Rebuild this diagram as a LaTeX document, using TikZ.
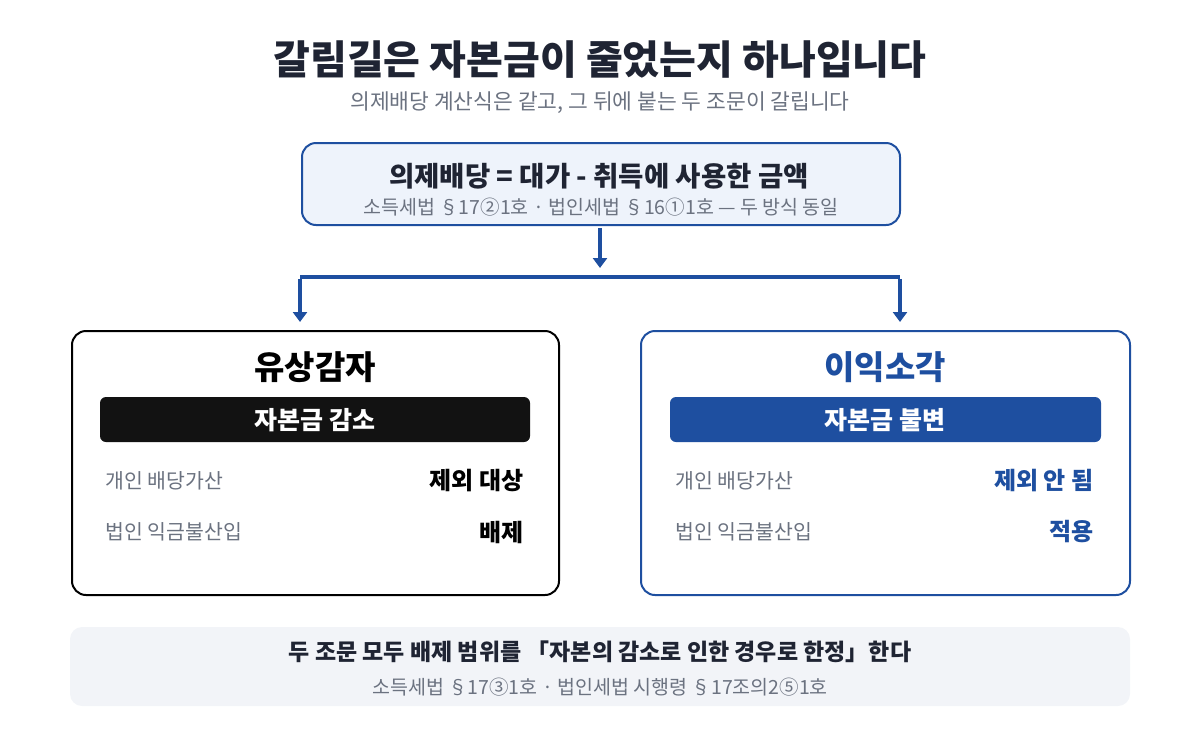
\documentclass[tikz,border=0pt]{standalone}
\usepackage{fontspec}
\setmainfont{Noto Sans CJK KR}
\definecolor{navy}{HTML}{1F2433}
\definecolor{blu}{HTML}{1E4FA0}
\definecolor{gry}{HTML}{6B7280}
\definecolor{topfill}{HTML}{EEF3FB}
\definecolor{botfill}{HTML}{F2F4F8}
\tikzset{
 px/.style={x=1pt,y=-1pt},
 card/.style={rounded corners=14pt,line width=2pt},
 bar/.style={rounded corners=6pt},
 lbl/.style={anchor=west,text=gry,font=\fontsize{20.5}{24}\selectfont},
 val/.style={anchor=east,font=\fontsize{24}{28}\selectfont\bfseries},
 flow/.style={blu,line width=3.5pt},
 tip/.style={-{Triangle[width=14pt,length=10pt]}}
}
\usetikzlibrary{arrows.meta}
\begin{document}
\begin{tikzpicture}[px]
\useasboundingbox (0,0) rectangle (1200,740);
\node[text=navy,font=\fontsize{40}{46}\selectfont\bfseries] (title) at (600,60) {갈림길은 자본금이 줄었는지 하나입니다};
\node[text=gry,font=\fontsize{21.5}{25}\selectfont] (sub) at (600,103) {의제배당 계산식은 같고, 그 뒤에 붙는 두 조문이 갈립니다};
% top box
\draw[card,draw=blu,fill=topfill] (302,143) rectangle (900,225);
\node[text=navy,font=\fontsize{27.5}{31}\selectfont\bfseries] (f1) at (599,176) {의제배당 = 대가 - 취득에 사용한 금액};
\node[text=gry,font=\fontsize{19.5}{22}\selectfont] (f2) at (601,207) {소득세법 §17②1호 · 법인세법 §16①1호 — 두 방식 동일};
\coordinate (a0) at (600,228);
\coordinate (a1) at (600,268);
\draw[flow,tip] (a0) -- (a1);
\coordinate (hl) at (300,277);
\coordinate (hr) at (900,277);
\coordinate (dl) at (300,322);
\coordinate (dr) at (900,322);
\draw[flow,line cap=butt] (hl) -- (hr);
\draw[flow,tip] ([yshift=-1.75pt]hl) -- (dl);
\draw[flow,tip] ([yshift=-1.75pt]hr) -- (dr);
% left
\draw[card,draw=black,fill=white] (72,331) rectangle (559,595);
\node[font=\fontsize{33}{38}\selectfont\bfseries] (lt) at (315,367) {유상감자};
\fill[bar,black!93] (100,397) rectangle (530,442);
\node[text=white,font=\fontsize{25}{29}\selectfont\bfseries] (lb) at (315,420) {자본금 감소};
\node[lbl] (l1) at (102,481) {개인 배당가산};
\node[val] (l1v) at (527,481) {제외 대상};
\node[lbl] (l2) at (102,532) {법인 익금불산입};
\node[val] (l2v) at (527,532) {배제};
% right
\draw[card,draw=blu,fill=white] (641,331) rectangle (1130,595);
\node[text=blu,font=\fontsize{33}{38}\selectfont\bfseries] (rt) at (885,367) {이익소각};
\fill[bar,blu] (670,397) rectangle (1101,442);
\node[text=white,font=\fontsize{25}{29}\selectfont\bfseries] (rb) at (885,420) {자본금 불변};
\node[lbl] (r1) at (672,481) {개인 배당가산};
\node[val,text=blu] (r1v) at (1097,481) {제외 안 됨};
\node[lbl] (r2) at (672,532) {법인 익금불산입};
\node[val,text=blu] (r2v) at (1097,532) {적용};
% bottom
\fill[botfill,rounded corners=12pt] (70,627) rectangle (1130,706);
\node[text=navy,font=\fontsize{23}{27}\selectfont\bfseries] (b1) at (600,652) {두 조문 모두 배제 범위를 「자본의 감소로 인한 경우로 한정」한다};
\node[text=gry,font=\fontsize{19.5}{22}\selectfont] (b2) at (600,687) {소득세법 §17③1호 · 법인세법 시행령 §17조의2⑤1호};
\end{tikzpicture}
\end{document}
